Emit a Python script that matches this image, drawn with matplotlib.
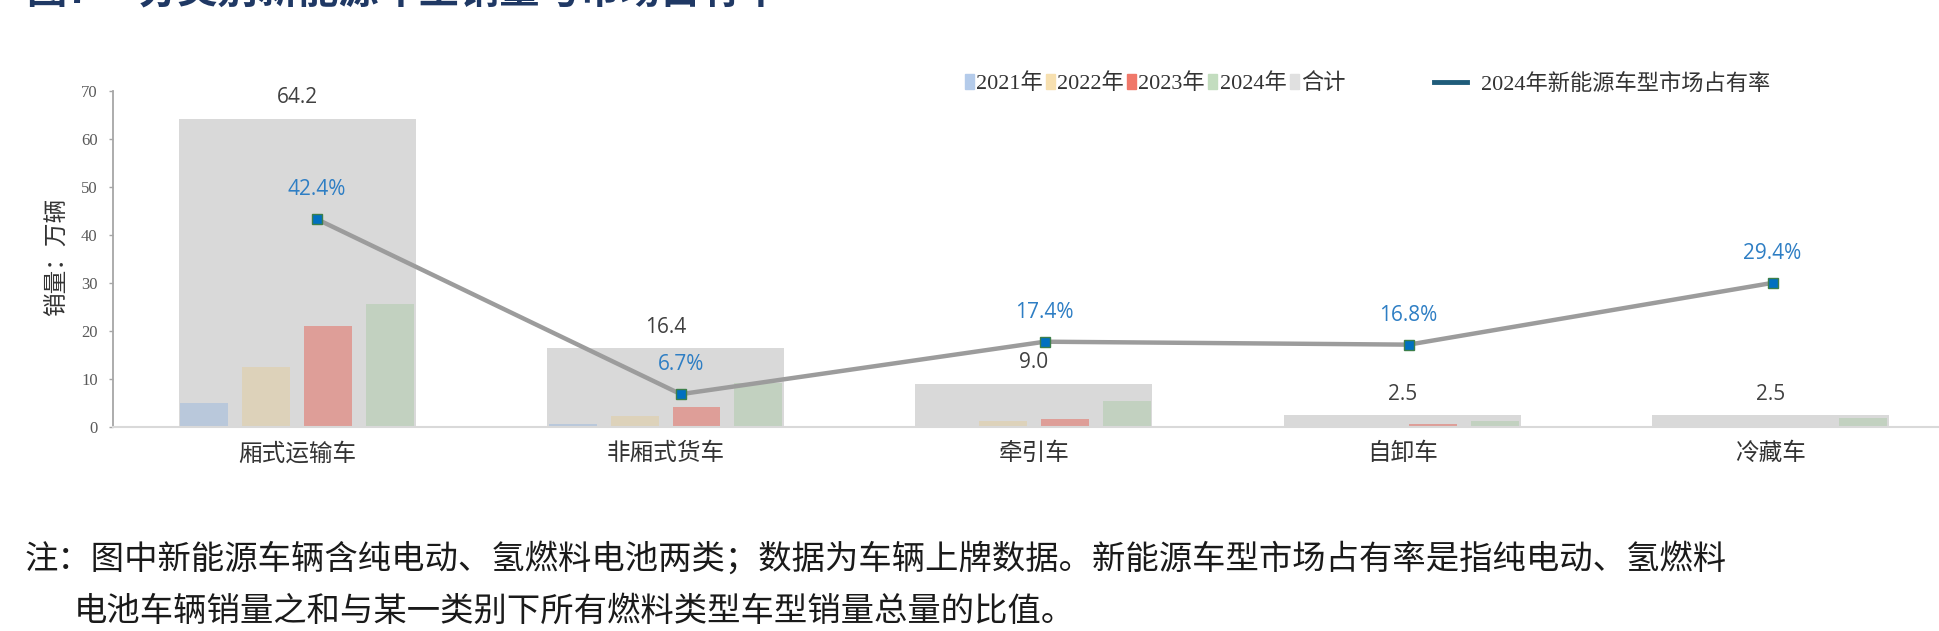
import numpy as np
import matplotlib.pyplot as plt
from matplotlib.patches import Patch
from matplotlib.lines import Line2D

plt.rcParams['font.family'] = ['Noto Sans CJK SC', 'DejaVu Sans']

# 数据：分类别新能源车销量（万辆）与2024年市场占有率（%）
categories = ['厢式运输车', '非厢式货车', '牵引车', '自卸车', '冷藏车']
years = ['2021年', '2022年', '2023年', '2024年']
sales_2021 = [5.0, 0.6, 0.1, 0.05, 0.0]
sales_2022 = [12.5, 2.3, 1.3, 0.05, 0.0]
sales_2023 = [21.0, 4.2, 1.7, 0.7, 0.0]
sales_2024 = [25.7, 9.1, 5.5, 1.3, 1.8]
sales_total = [64.2, 16.4, 9.0, 2.5, 2.5]
share_2024 = [42.4, 6.7, 17.4, 16.8, 29.4]

bar_colors = ['#B9C8DB', '#DDD2BA', '#DE9E98', '#C2D1C0']
legend_colors = ['#B4CBEA', '#F7E0B0', '#F0786A', '#C3DDBF']
gray = '#D9D9D9'

fig = plt.figure(figsize=(19.4, 6.31), dpi=100)
pos = [113 / 1940, 1 - 427 / 631, 1 - 113 / 1940, (427 - 90.7) / 631]
ax = fig.add_axes(pos)

x = np.arange(len(categories))
ax.bar(x, sales_total, width=0.643, color=gray, zorder=1)
yearly = [sales_2021, sales_2022, sales_2023, sales_2024]
for k, vals in enumerate(yearly):
    ax.bar(x + (k - 1.5) * 0.168, vals, width=0.13, color=bar_colors[k], zorder=2)

for xi, v in zip(x, sales_total):
    ax.annotate(f'{v:.1f}', (xi, v), xytext=(0, 15), textcoords='offset points',
                ha='center', va='center', fontsize=15, color='#404040',
                family=['Open Sans', 'DejaVu Sans'])

ax.set_xlim(-0.5, 4.46)
ax.set_ylim(0, 70)
ax.set_yticks(range(0, 71, 10))
ax.set_xticks(x)
ax.set_xticklabels(categories, fontsize=17, color='#333333')
ax.tick_params(axis='x', length=0, pad=11)
ax.tick_params(axis='y', length=3, width=1, color='#A6A6A6', pad=8,
               labelsize=12, labelcolor='#595959')
for lab in ax.get_yticklabels():
    lab.set_family(['Liberation Serif', 'DejaVu Serif'])
for s in ['top', 'right']:
    ax.spines[s].set_visible(False)
ax.spines['left'].set_color('#A6A6A6')
ax.spines['left'].set_linewidth(1.3)
ax.spines['bottom'].set_color('#D9D9D9')
ax.spines['bottom'].set_linewidth(1.5)

# 市场占有率折线（次坐标轴）
ax2 = fig.add_axes(pos)
ax2.patch.set_visible(False)
ax2.axis('off')
ax2.set_xlim(-0.56, 4.46)
ax2.set_ylim(0, 68.6)
ax2.plot(x, share_2024, color='#9C9C9C', lw=3.2, marker='s', markersize=7,
         markerfacecolor='#0070C0', markeredgecolor='#3C7F4A', markeredgewidth=1, zorder=3)
for xi, v in zip(x, share_2024):
    ax2.annotate(f'{v:.1f}%', (xi, v), xytext=(0, 21), textcoords='offset points',
                 ha='center', va='center', fontsize=15, color='#2E7EC4',
                 family=['Open Sans', 'DejaVu Sans'])

fig.text(57 / 1940, 1 - 257 / 631, '销量：万辆', rotation=90, ha='center', va='center',
         fontsize=17, color='#333333')

# 图例
leg_font = {'family': ['Liberation Serif', 'Noto Sans CJK SC'], 'size': 16}
handles = [Patch(color=c) for c in legend_colors] + [Patch(color='#E0E0E0')]
labels = years + ['合计']
leg1 = fig.legend(handles, labels, loc='center left', bbox_to_anchor=(965 / 1940, 1 - 84 / 631),
                  ncol=6, frameon=False, handlelength=0.4, handleheight=0.7,
                  handletextpad=0.1, columnspacing=0.15, borderpad=0, borderaxespad=0,
                  prop=leg_font)
for t in leg1.get_texts():
    t.set_color('#333333')
fig.legend([Line2D([], [], color='#1F5C7A', lw=3.5)], ['2024年新能源车型市场占有率'],
           loc='center left', bbox_to_anchor=(1434 / 1940, 1 - 84 / 631), frameon=False,
           handlelength=1.5, handletextpad=0.6, borderpad=0, borderaxespad=0,
           prop=leg_font, labelcolor='#333333')

# 标题（上方被裁切）
fig.text(26 / 1940, 1.013, '图7', fontsize=29, color='#1F3864', fontweight='bold', va='center')
fig.text(138 / 1940, 1.013, '分类别新能源车型销量与市场占有率', fontsize=29, color='#1F3864',
         fontweight='bold', va='center')

# 注释
fig.text(25 / 1940, 1 - 559 / 631,
         '注：图中新能源车辆含纯电动、氢燃料电池两类；数据为车辆上牌数据。新能源车型市场占有率是指纯电动、氢燃料',
         fontsize=24, color='#1A1A1A', va='center')
fig.text(74 / 1940, 1 - 611 / 631,
         '电池车辆销量之和与某一类别下所有燃料类型车型销量总量的比值。',
         fontsize=24, color='#1A1A1A', va='center')

fig.savefig('out.png', dpi=100)
